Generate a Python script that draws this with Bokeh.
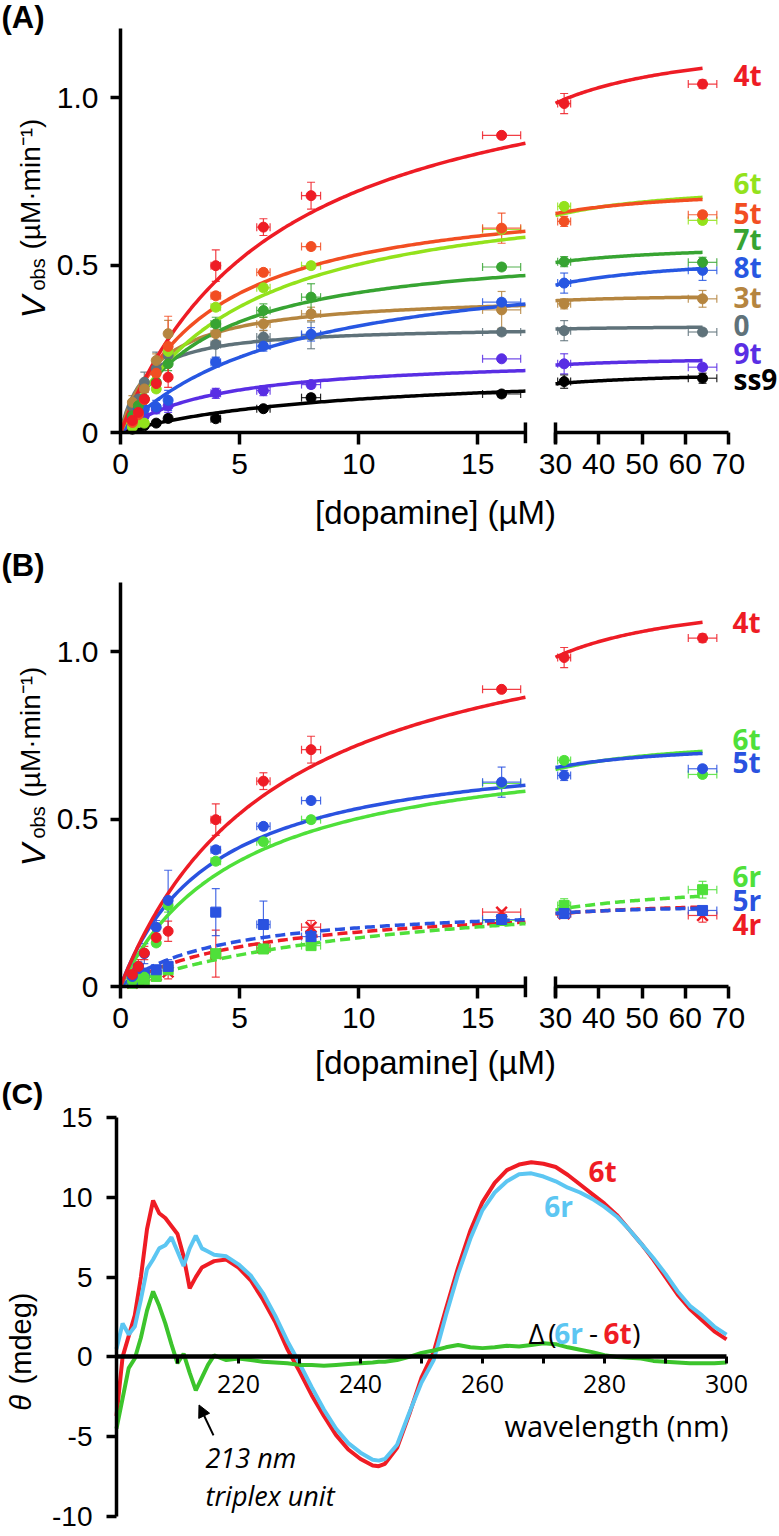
import numpy as np
from bokeh.plotting import figure
from bokeh.models import (Range1d, LinearAxis, FixedTicker, Label, Whisker,
                          ColumnDataSource, Arrow, NormalHead, TeeHead)
from bokeh.layouts import column
from bokeh.embed import file_html
from bokeh.resources import INLINE

# ---------------- data: panels A / B (kinetics) ----------------
dopamine_uM = [0.5, 0.75, 1, 1.5, 2, 4, 6, 8, 16, 32, 64]
dopamine_err = [0.03, 0.04, 0.05, 0.08, 0.1, 0.2, 0.28, 0.4, 0.8, 1.5, 3.3]

v_4t = [0.036, 0.06, 0.10, 0.146, 0.165, 0.498, 0.613, 0.707, 0.887, 0.982, 1.040]
e_4t = [0.02, 0.02, 0.02, 0.02, 0.03, 0.047, 0.025, 0.04, 0.006, 0.03, 0.012]
v_5t = [0.03, 0.053, 0.098, 0.177, 0.257, 0.408, 0.478, 0.555, 0.61, 0.63, 0.65]
e_5t = [0.01, 0.02, 0.03, 0.02, 0.09, 0.01, 0.01, 0.01, 0.045, 0.015, 0.01]
v_6t = [0.016, 0.03, 0.028, 0.13, 0.242, 0.374, 0.432, 0.498, 0.606, 0.675, 0.633]
e_6t = [0.01, 0.01, 0.01, 0.01, 0.02, 0.01, 0.01, 0.01, 0.01, 0.01, 0.01]
v_7t = [0.05, 0.08, 0.10, 0.15, 0.205, 0.324, 0.364, 0.404, 0.494, 0.510, 0.508]
e_7t = [0.02, 0.02, 0.02, 0.02, 0.02, 0.02, 0.02, 0.04, 0.01, 0.015, 0.015]
v_8t = [0.04, 0.07, 0.07, 0.076, 0.096, 0.21, 0.258, 0.293, 0.389, 0.446, 0.484]
e_8t = [0.02, 0.02, 0.02, 0.02, 0.03, 0.015, 0.015, 0.02, 0.01, 0.03, 0.03]
v_3t = [0.09, 0.06, 0.13, 0.215, 0.295, 0.295, 0.324, 0.354, 0.366, 0.384, 0.399]
e_3t = [0.02, 0.02, 0.02, 0.02, 0.04, 0.02, 0.02, 0.02, 0.055, 0.015, 0.025]
v_0 = [0.076, 0.10, 0.15, 0.19, 0.23, 0.263, 0.285, 0.29, 0.30, 0.304, 0.30]
e_0 = [0.02, 0.02, 0.03, 0.05, 0.02, 0.04, 0.02, 0.04, 0.01, 0.03, 0.01]
v_9t = [0.02, 0.03, 0.05, 0.07, 0.08, 0.117, 0.125, 0.143, 0.22, 0.205, 0.195]
e_9t = [0.01, 0.01, 0.01, 0.01, 0.02, 0.015, 0.015, 0.01, 0.005, 0.03, 0.01]
v_ss9 = [0.01, 0.015, 0.02, 0.028, 0.042, 0.041, 0.071, 0.104, 0.115, 0.152, 0.162]
e_ss9 = [0.005, 0.005, 0.005, 0.005, 0.01, 0.005, 0.005, 0.01, 0.01, 0.02, 0.015]
v_4r = [0.01, 0.02, 0.03, 0.033, 0.043, 0.098, 0.115, 0.177, 0.222, 0.217, 0.212]
e_4r = [0.01, 0.01, 0.01, 0.01, 0.02, 0.07, 0.01, 0.02, 0.005, 0.01, 0.02]
v_5r = [0.02, 0.053, 0.04, 0.05, 0.06, 0.222, 0.185, 0.149, 0.20, 0.218, 0.227]
e_5r = [0.01, 0.02, 0.01, 0.01, 0.02, 0.07, 0.07, 0.02, 0.005, 0.015, 0.01]
v_6r = [0.01, 0.015, 0.02, 0.03, 0.05, 0.098, 0.112, 0.122, 0.197, 0.242, 0.289]
e_6r = [0.005, 0.005, 0.01, 0.01, 0.01, 0.01, 0.01, 0.01, 0.01, 0.02, 0.025]

# Michaelis-Menten fit parameters (Vmax in uM/min, Km in uM)
fit_names = ["4t", "5t", "6t", "7t", "8t", "3t", "0", "9t", "ss9", "4r", "5r", "6r"]
fit_vmax = [1.20, 0.738, 0.758, 0.568, 0.544, 0.414, 0.319, 0.228, 0.189, 0.259, 0.249, 0.32]
fit_km = [6.63, 3.88, 5.1, 3.6, 7.1, 1.56, 1.0, 3.98, 9.0, 5.92, 4.2, 12.0]

values = {"4t": v_4t, "5t": v_5t, "6t": v_6t, "7t": v_7t, "8t": v_8t, "3t": v_3t,
          "0": v_0, "9t": v_9t, "ss9": v_ss9, "4r": v_4r, "5r": v_5r, "6r": v_6r}
errors = {"4t": e_4t, "5t": e_5t, "6t": e_6t, "7t": e_7t, "8t": e_8t, "3t": e_3t,
          "0": e_0, "9t": e_9t, "ss9": e_ss9, "4r": e_4r, "5r": e_5r, "6r": e_6r}

colors_A = {"4t": "#ee1c25", "5t": "#f24e22", "6t": "#93e21c", "7t": "#37a432",
            "8t": "#2757e2", "3t": "#b5853f", "0": "#5f727a", "9t": "#592ee4", "ss9": "#000000"}
colors_B = {"4t": "#ee1c25", "5t": "#2a52e0", "6t": "#4fe03a",
            "4r": "#ee1c25", "5r": "#2a52e0", "6r": "#4fe03a"}

order_A = ["ss9", "9t", "0", "3t", "8t", "7t", "6t", "5t", "4t"]
order_B = ["4r", "6r", "5r", "6t", "5t", "4t"]
tags_A = ["4t", "6t", "5t", "7t", "8t", "3t", "0", "9t", "ss9"]
tag_y_A = [1.066, 0.746, 0.654, 0.579, 0.493, 0.403, 0.319, 0.236, 0.161]
tags_B = ["4t", "6t", "5t", "6r", "5r", "4r"]
tag_y_B = [1.087, 0.740, 0.669, 0.331, 0.257, 0.188]

# ---------------- data: panel C (CD spectra) ----------------
wavelength_nm = [200, 201, 202, 203, 204, 205, 206, 207, 208, 209, 210, 211, 212, 213, 214,
                 215, 216, 218, 220, 222, 224, 226, 228, 230, 232, 234, 236, 238, 240, 242,
                 243, 244, 246, 248, 250, 252, 254, 256, 258, 260, 262, 264, 266, 268, 270,
                 272, 274, 276, 278, 280, 282, 284, 286, 288, 290, 292, 294, 296, 298, 300]
cd_6t = [-3.7, 0.0, 1.3, 2.6, 5.0, 8.0, 9.8, 9.0, 8.7, 8.2, 7.7, 6.3, 4.3, 5.0, 5.6,
         5.8, 6.0, 6.1, 5.6, 4.8, 3.6, 2.2, 0.5, -0.9, -2.4, -3.7, -4.9, -5.8, -6.4, -6.8,
         -6.85, -6.7, -5.7, -3.6, -1.3, 0.3, 3.0, 5.6, 7.9, 9.7, 10.9, 11.7, 12.05, 12.2, 12.1,
         11.9, 11.4, 10.8, 10.2, 9.6, 8.9, 8.0, 7.1, 6.1, 5.0, 3.9, 3.0, 2.3, 1.6, 1.1]
cd_6r = [0.5, 2.1, 1.4, 1.9, 3.6, 5.5, 6.1, 6.8, 7.0, 7.5, 6.6, 5.7, 6.8, 7.6, 6.8,
         6.6, 6.4, 6.3, 5.8, 5.1, 4.0, 2.6, 1.0, -0.4, -1.9, -3.3, -4.5, -5.4, -6.0, -6.45,
         -6.5, -6.4, -5.5, -3.5, -1.6, -0.2, 2.6, 5.2, 7.4, 9.2, 10.3, 11.0, 11.45, 11.5, 11.3,
         11.0, 10.6, 10.3, 9.9, 9.4, 8.8, 8.0, 7.1, 6.2, 5.2, 4.1, 3.2, 2.6, 1.9, 1.4]
cd_delta = [-4.5, -2.6, -0.7, -0.1, 1.2, 2.9, 4.1, 3.2, 2.1, 0.8, -0.4, 0.2, -1.0, -2.1, -1.3,
            -0.5, 0.1, -0.2, -0.1, -0.2, -0.3, -0.35, -0.4, -0.5, -0.5, -0.55, -0.5, -0.45, -0.4, -0.35,
            -0.3, -0.3, -0.2, 0.0, 0.25, 0.4, 0.6, 0.75, 0.6, 0.55, 0.6, 0.7, 0.65, 0.75, 0.85,
            0.8, 0.6, 0.45, 0.3, 0.1, 0.0, -0.05, -0.1, -0.25, -0.3, -0.35, -0.4, -0.4, -0.4, -0.35]

# ---------------- layout constants (pixel geometry) ----------------
FONT = "Liberation Sans"
TAGFONT = "Open Sans"
W = 779
H_A, H_B = 548, 494
H_C = 1536 - H_A - H_B
PX_L = 23.82      # px per uM, left segment
PX_R = 4.325      # px per uM, right segment
PX_V = 335.0      # px per uM/min
BREAK_L, BREAK_R, X_MAX = 17, 30, 70
Y_TOP = 1.206


def ax_l(px):
    return (px - 120) / PX_L


def ax_r(px):
    return BREAK_R + (px - 555) / PX_R


def style_axis(ax, size, font=FONT, lw=3.5):
    ax.axis_line_width = lw
    ax.axis_line_color = "black"
    ax.major_tick_line_width = lw
    ax.major_tick_line_color = "black"
    ax.minor_tick_line_color = None
    ax.major_tick_in = 0
    ax.major_label_text_font = font
    ax.major_label_text_font_size = size
    ax.major_label_text_color = "black"


def text(p, x, y, s, size, color="black", font=FONT, style="normal",
         align="left", baseline="middle", angle=0.0, rname=None):
    kw = {"x_range_name": rname} if rname else {}
    p.add_layout(Label(x=x, y=y, text=s, text_font=font, text_font_size=size,
                       text_color=color, text_font_style=style, text_align=align,
                       text_baseline=baseline, angle=angle, **kw))


def add_points(p, xs, ys, ex, ey, color, marker, rname=None):
    src = ColumnDataSource(dict(x=xs, y=ys, xl=xs - ex, xu=xs + ex, yl=ys - ey, yu=ys + ey))
    kw = {"x_range_name": rname} if rname else {}
    for base, lo, hi, dim in (("x", "yl", "yu", "height"), ("y", "xl", "xu", "width")):
        p.add_layout(Whisker(source=src, base=base, lower=lo, upper=hi, dimension=dim,
                             line_color=color, line_width=1.2, line_alpha=0.85,
                             lower_head=TeeHead(size=8, line_color=color, line_width=1.2, line_alpha=0.85),
                             upper_head=TeeHead(size=8, line_color=color, line_width=1.2, line_alpha=0.85),
                             **kw))
    if marker == "x":
        p.scatter("x", "y", source=src, marker="x", size=15, line_width=2.5,
                  line_color=color, **kw)
    else:
        p.scatter("x", "y", source=src, marker=marker, size=10, line_color=color,
                  fill_color=color, **kw)


def kinetic_panel(height, zero_py, order, colors, tags, tag_y, tag_px, letter, xlabel_py):
    def ay(py):
        return (zero_py - py) / PX_V

    p = figure(width=W, height=height, output_backend="svg", toolbar_location=None,
               x_range=Range1d(ax_l(0), ax_l(W)), y_range=Range1d(ay(height), ay(0)),
               x_axis_location=None, y_axis_location=None,
               min_border_left=0, min_border_right=0, min_border_top=0, min_border_bottom=0)
    p.extra_x_ranges = {"right": Range1d(ax_r(0), ax_r(W))}
    p.grid.visible = False
    p.outline_line_color = None

    xa = LinearAxis(ticker=FixedTicker(ticks=[0, 5, 10, 15]), bounds=(0, BREAK_L), fixed_location=0)
    xr = LinearAxis(x_range_name="right", ticker=FixedTicker(ticks=[30, 40, 50, 60, 70]),
                    bounds=(BREAK_R, X_MAX), fixed_location=0)
    for a in (xa, xr):
        style_axis(a, "30px")
        a.major_tick_out = 12
        a.major_label_standoff = 9
        p.add_layout(a, "below")

    ya = LinearAxis(ticker=FixedTicker(ticks=[0, 0.5, 1.0]), bounds=(0, Y_TOP), fixed_location=0)
    style_axis(ya, "30px")
    ya.major_label_overrides = {0: "0", 0.5: "0.5", 1: "1.0"}
    ya.major_tick_out = 10
    ya.major_label_standoff = 12
    p.add_layout(ya, "left")

    # axis-break end bars
    p.segment(x0=[BREAK_L], y0=[-0.032], x1=[BREAK_L], y1=[0.03], line_width=3.5, line_color="black")
    p.segment(x0=[BREAK_R], y0=[-0.032], x1=[BREAK_R], y1=[0.03], line_width=3.5,
              line_color="black", x_range_name="right")

    xs = np.array(dopamine_uM, dtype=float)
    ex = np.array(dopamine_err, dtype=float)
    left = xs <= BREAK_L
    right = ~left
    xl = np.linspace(0, BREAK_L, 150)
    xrr = np.linspace(BREAK_R, 64, 80)
    for name in order:
        i = fit_names.index(name)
        vm, km = fit_vmax[i], fit_km[i]
        dash = "10 5" if name.endswith("r") else "solid"
        c = colors[name]
        p.line(xl, vm * xl / (km + xl), line_color=c, line_width=3.5, line_dash=dash)
        p.line(xrr, vm * xrr / (km + xrr), line_color=c, line_width=3.5, line_dash=dash,
               x_range_name="right")
    for name in order:
        c = colors[name]
        ys = np.array(values[name], dtype=float)
        ey = np.array(errors[name], dtype=float)
        marker = "circle"
        if name == "4r":
            marker = "x"
        elif name.endswith("r"):
            marker = "square"
        add_points(p, xs[left], ys[left], ex[left], ey[left], c, marker)
        add_points(p, xs[right], ys[right], ex[right], ey[right], c, marker, rname="right")

    for t, ty in zip(tags, tag_y):
        text(p, ax_r(tag_px), ty, t, "28px", color=colors[t], font=TAGFONT, style="bold",
             rname="right")

    # axis titles and panel letter
    if xlabel_py is not None:
        text(p, ax_l(435), ay(xlabel_py), "[dopamine] (\u00b5M)", "33px", align="center")
    text(p, ax_l(32), ay(318), "V", "34px", style="italic", baseline="alphabetic", angle=np.pi / 2)
    text(p, ax_l(37), ay(290), "obs", "20px", baseline="alphabetic", angle=np.pi / 2)
    text(p, ax_l(30), ay(249), "(\u00b5M\u00b7min\u207b\u00b9)", "28px",
         baseline="alphabetic", angle=np.pi / 2)
    text(p, ax_l(1), ay(17), letter, "31px", style="bold")
    return p


# panel A: y=0 at canvas px 432 ; panel B: y=0 at canvas px 438 (page 986)
pA = kinetic_panel(H_A, 432, order_A, colors_A, tags_A, tag_y_A, 733, "(A)", 512)
pB = kinetic_panel(H_B, 438, order_B, colors_B, tags_B, tag_y_B, 732, "(B)", None)

# ---------------- panel C ----------------
PX_C = 6.1
PX_CY = 15.96          # drawn px per mdeg
C_TOP = H_A + H_B      # page y of the C canvas top


def cxp(px):
    return 200 + (px - 116) / PX_C


def cyp(py):
    # reference page pixel -> mdeg
    return (1362 - py) / 16.27


def c_from_page(py):
    # drawn page pixel -> mdeg (15 mdeg at page 1117)
    return 15 + (1117 - py) / PX_CY


pC = figure(width=W, height=H_C, output_backend="svg", toolbar_location=None,
            x_range=Range1d(cxp(0), cxp(W)),
            y_range=Range1d(c_from_page(C_TOP + H_C), c_from_page(C_TOP)),
            x_axis_location=None, y_axis_location=None,
            min_border_left=0, min_border_right=0, min_border_top=0, min_border_bottom=0)
pC.grid.visible = False
pC.outline_line_color = None

cx = LinearAxis(fixed_location=0, bounds=(200, 300),
                ticker=FixedTicker(ticks=list(range(210, 301, 10))))
style_axis(cx, "25px", font="Open Sans", lw=4.5)
cx.major_label_overrides = {210: "", 230: "", 250: "", 270: "", 290: ""}
cx.major_tick_out = 7
cx.major_tick_line_width = 3
cx.major_label_standoff = 11
pC.add_layout(cx, "below")

cy = LinearAxis(fixed_location=200, bounds=(-10, 15),
                ticker=FixedTicker(ticks=[-10, -5, 0, 5, 10, 15]))
style_axis(cy, "28px")
cy.major_label_overrides = {-10: "-10", -5: "-5", 0: "0", 5: "5", 10: "10", 15: "15"}
cy.major_tick_out = 10
cy.major_label_standoff = 14
pC.add_layout(cy, "left")

pC.line(wavelength_nm, cd_6t, line_color="#ef1c24", line_width=4)
pC.line(wavelength_nm, cd_6r, line_color="#5cc6f2", line_width=4)
pC.line(wavelength_nm, cd_delta, line_color="#3cc42c", line_width=4)

text(pC, cxp(602), cyp(1172), "6t", "28px", color="#ef1c24", font=TAGFONT, style="bold", align="center")
text(pC, cxp(558), cyp(1208), "6r", "28px", color="#5cc6f2", font=TAGFONT, style="bold", align="center")
for s, px, col, sty in (("\u0394", 536, "black", "normal"), ("(", 552, "black", "normal"),
                        ("6r", 568, "#5cc6f2", "bold"), ("-", 593, "black", "normal"),
                        ("6t", 617, "#ef1c24", "bold"), (")", 636, "black", "normal")):
    text(pC, cxp(px), cyp(1338), s, "28px", color=col, font=TAGFONT, style=sty,
         align="center", baseline="alphabetic")
text(pC, cxp(728), cyp(1432), "wavelength (nm)", "29px", font="Open Sans", align="right")
text(pC, cxp(205), cyp(1465), "213 nm", "27px", font="Open Sans", style="italic")
text(pC, cxp(205), cyp(1503), "triplex unit", "27px", font="Open Sans", style="italic")
pC.add_layout(Arrow(x_start=cxp(213), y_start=cyp(1442), x_end=cxp(198.5), y_end=cyp(1411),
                    line_width=2, line_color="black",
                    end=NormalHead(size=12, fill_color="black", line_color="black")))
text(pC, cxp(20), cyp(1417), "\u03b8", "29px", style="italic", baseline="alphabetic", angle=np.pi / 2)
text(pC, cxp(20), cyp(1390), "(mdeg)", "29px", baseline="alphabetic", angle=np.pi / 2)
text(pC, cxp(1), c_from_page(1093), "(C)", "30px", style="bold")
# x-axis title of panel B (sits just above panel C)
text(pC, cxp(435), c_from_page(1062), "[dopamine] (\u00b5M)", "33px", align="center")

layout = column(pA, pB, pC)
open("out.html", "w").write(file_html(layout, INLINE))
